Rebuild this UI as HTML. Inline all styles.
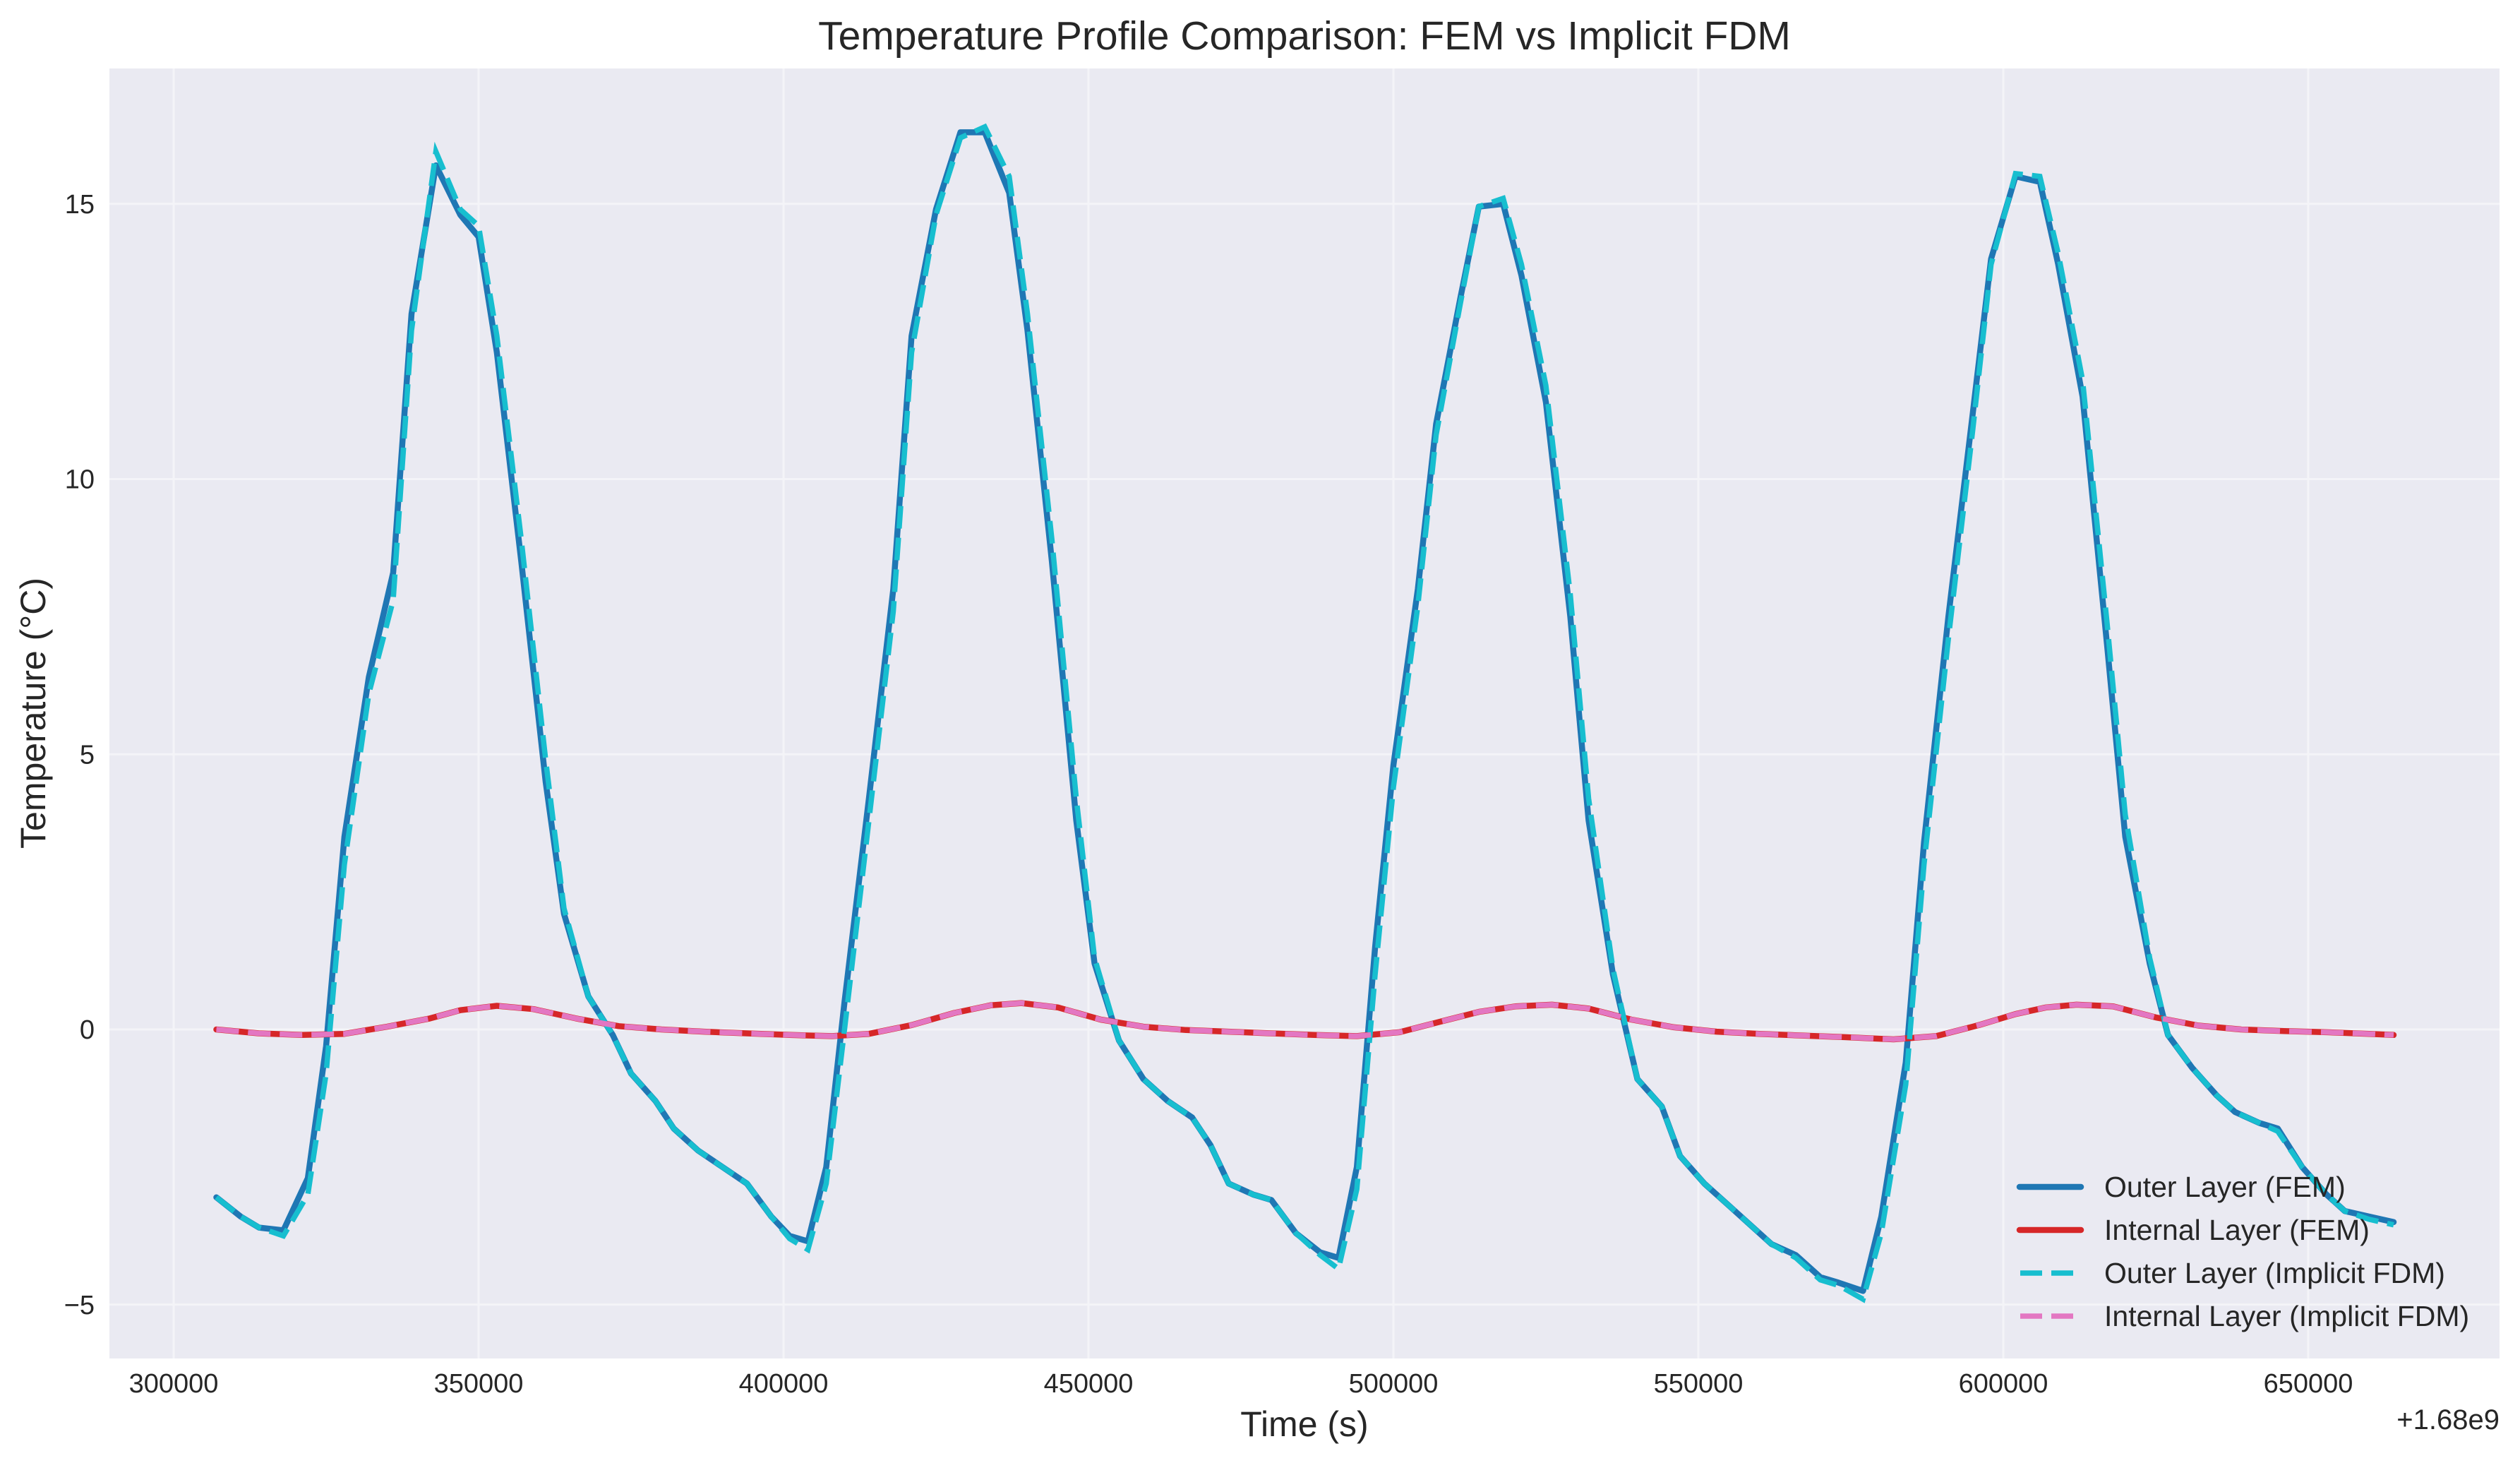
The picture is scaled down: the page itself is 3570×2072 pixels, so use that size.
<!DOCTYPE html>
<html><head><meta charset="utf-8">
<style>
html,body{margin:0;padding:0;background:#fff;}
svg{display:block;font-family:"Liberation Sans",sans-serif;}
</style></head>
<body>
<svg id="chart" width="3570" height="2072" viewBox="0 0 3570 2072" xmlns="http://www.w3.org/2000/svg">
<rect x="0" y="0" width="3570" height="2072" fill="#ffffff"/>
<rect x="155" y="97" width="3386" height="1827" fill="#eaeaf2"/>
<g id="grid"></g>
<g id="series"></g>
<g id="ticks"></g>
<text x="1848" y="70" font-size="57" fill="#262626" text-anchor="middle">Temperature Profile Comparison: FEM vs Implicit FDM</text>
<text x="1848" y="2034" font-size="50" fill="#262626" text-anchor="middle">Time (s)</text>
<text x="64" y="1010" font-size="50" fill="#262626" text-anchor="middle" transform="rotate(-90 64 1010)">Temperature (°C)</text>
<text x="3541" y="2024" font-size="40" fill="#262626" text-anchor="end">+1.68e9</text>
<g id="legend"></g>
</svg>
<script>
const xTicks = [300000, 350000, 400000, 450000, 500000, 550000, 600000, 650000];
const yTicks = [-5, 0, 5, 10, 15];
const outerTimes = [307000,311000,314000,318000,322000,325000,328000,332000,336000,339000,343000,347000,350000,353000,357000,361000,364000,368000,372000,375000,379000,382000,386000,390000,394000,398000,401000,404000,407000,410000,414000,418000,421000,425000,429000,433000,437000,440000,444000,448000,451000,455000,459000,463000,467000,470000,473000,477000,480000,484000,488000,491000,494000,497000,500000,504000,507000,511000,514000,518000,521000,525000,529000,532000,536000,540000,544000,547000,551000,555000,559000,562000,566000,570000,573000,577000,580000,584000,587000,591000,595000,598000,602000,606000,609000,613000,617000,620000,624000,627000,631000,635000,638000,642000,645000,649000,653000,656000,660000,664000];
const outerFEM = [-3.05,-3.4,-3.6,-3.65,-2.7,-0.3,3.5,6.4,8.3,13,15.7,14.8,14.4,12.3,8.5,4.5,2.1,0.6,-0.1,-0.8,-1.3,-1.8,-2.2,-2.5,-2.8,-3.4,-3.75,-3.85,-2.5,0.5,4.2,8,12.6,14.9,16.3,16.3,15.2,12.7,8.5,3.8,1.2,-0.2,-0.9,-1.3,-1.6,-2.1,-2.8,-3,-3.1,-3.7,-4.05,-4.15,-2.5,1.5,4.8,8,11,13.3,14.95,15.0,13.7,11.4,7.5,3.8,1.0,-0.9,-1.4,-2.3,-2.8,-3.2,-3.6,-3.9,-4.1,-4.5,-4.6,-4.75,-3.4,-0.6,3.4,7.5,11.2,14,15.5,15.4,13.9,11.5,7,3.5,1.2,-0.1,-0.7,-1.2,-1.5,-1.7,-1.8,-2.5,-3.0,-3.3,-3.4,-3.5];
const outerFDM = [-3.05,-3.4,-3.6,-3.75,-3.0,-0.8,3.0,6.1,7.8,12.7,15.95,14.9,14.6,12.6,8.9,4.9,2.2,0.6,-0.1,-0.8,-1.3,-1.8,-2.2,-2.5,-2.8,-3.4,-3.8,-4.0,-2.8,0.0,3.8,7.6,12.3,14.8,16.2,16.4,15.5,13.0,8.9,4.2,1.3,-0.2,-0.9,-1.3,-1.6,-2.1,-2.8,-3,-3.1,-3.7,-4.1,-4.35,-2.9,1.0,4.4,7.7,10.8,13.2,14.95,15.1,13.9,11.7,7.9,4.2,1.1,-0.9,-1.4,-2.3,-2.8,-3.2,-3.6,-3.9,-4.15,-4.55,-4.65,-4.9,-3.7,-1.0,3.0,7.1,10.9,13.9,15.55,15.5,14.1,11.8,7.4,3.9,1.3,-0.1,-0.7,-1.2,-1.5,-1.7,-1.85,-2.5,-3.0,-3.3,-3.45,-3.55];
const internalTimes = [307000,314000,321000,328000,335000,342000,347000,353000,359000,366000,373000,380000,387000,394000,401000,408000,414000,421000,428000,434000,439000,445000,452000,459000,466000,473000,480000,487000,494000,501000,508000,514000,520000,526000,532000,539000,546000,553000,560000,567000,574000,582000,589000,596000,602000,607000,612000,618000,625000,632000,639000,646000,653000,660000,664000];
const internalFEM = [0.0,-0.07,-0.1,-0.08,0.05,0.2,0.35,0.43,0.37,0.2,0.06,0.0,-0.04,-0.07,-0.1,-0.12,-0.08,0.08,0.3,0.44,0.48,0.4,0.18,0.05,-0.01,-0.04,-0.07,-0.1,-0.12,-0.05,0.15,0.32,0.42,0.45,0.38,0.18,0.04,-0.04,-0.08,-0.11,-0.14,-0.18,-0.12,0.08,0.28,0.4,0.45,0.42,0.22,0.07,0.0,-0.03,-0.05,-0.08,-0.1];
const internalFDM = internalFEM.slice();

const X0 = 246, XS = 432/50000, XV0 = 300000;
const Y0 = 1458, YS = 77.95;
function sx(v){ return X0 + (v - XV0) * XS; }
function sy(v){ return Y0 - v * YS; }
const NS = "http://www.w3.org/2000/svg";
function mk(tag, attrs, parent){ const e = document.createElementNS(NS, tag); for (const k in attrs) e.setAttribute(k, attrs[k]); parent.appendChild(e); return e; }

const grid = document.getElementById('grid');
const ticks = document.getElementById('ticks');
xTicks.forEach(v => {
  const l = mk('line', {x1: sx(v), x2: sx(v), y1: 97, y2: 1924, stroke: '#f4f4f8', 'stroke-width': 3}, grid);
  
  
  const t = mk('text', {x: sx(v), y: 1972, 'font-size': 38, fill: '#262626', 'text-anchor': 'middle'}, ticks);
  t.textContent = String(v);
  
  
});
yTicks.forEach(v => {
  const l = mk('line', {x1: 155, x2: 3541, y1: sy(v), y2: sy(v), stroke: '#f4f4f8', 'stroke-width': 3}, grid);
  
  
  const t = mk('text', {x: 134, y: sy(v) + 13, 'font-size': 38, fill: '#262626', 'text-anchor': 'end'}, ticks);
  t.textContent = v < 0 ? '\u2212' + Math.abs(v) : String(v);
  
  
});

const series = document.getElementById('series');
function path(xs, ys){ return xs.map((x,i)=> (i?'L':'M') + sx(x).toFixed(1) + ',' + sy(ys[i]).toFixed(1)).join(''); }
const p1 = mk('path', {d: path(outerTimes, outerFEM), fill: 'none', stroke: '#1f77b4', 'stroke-width': 8.5, 'stroke-linejoin': 'round', 'stroke-linecap': 'round'}, series);


const p2 = mk('path', {d: path(internalTimes, internalFEM), fill: 'none', stroke: '#d62728', 'stroke-width': 8.5, 'stroke-linejoin': 'round', 'stroke-linecap': 'round'}, series);


const p3 = mk('path', {d: path(outerTimes, outerFDM), fill: 'none', stroke: '#17becf', 'stroke-width': 7.5, 'stroke-dasharray': '32 13'}, series);


const p4 = mk('path', {d: path(internalTimes, internalFDM), fill: 'none', stroke: '#e377c2', 'stroke-width': 7.5, 'stroke-dasharray': '32 13'}, series);



const legend = document.getElementById('legend');
const legItems = [
  ['Outer Layer (FEM)', '#1f77b4', false, 8.5],
  ['Internal Layer (FEM)', '#d62728', false, 8.5],
  ['Outer Layer (Implicit FDM)', '#17becf', true, 7.5],
  ['Internal Layer (Implicit FDM)', '#e377c2', true, 7.5]
];
legItems.forEach((it, i) => {
  const y = 1681 + i * 61;
  const g = mk('g', {}, legend);
  
  
  const a = {x1: 2861, x2: 2948, y1: y, y2: y, stroke: it[1], 'stroke-width': it[3]};
  if (it[2]) { a['stroke-dasharray'] = '31 13'; a.x1 = 2862; } else { a['stroke-linecap'] = 'round'; }
  mk('line', a, g);
  const t = mk('text', {x: 2981, y: y + 14, 'font-size': 41, fill: '#262626'}, g);
  t.textContent = it[0];
});
</script>
</body></html>
